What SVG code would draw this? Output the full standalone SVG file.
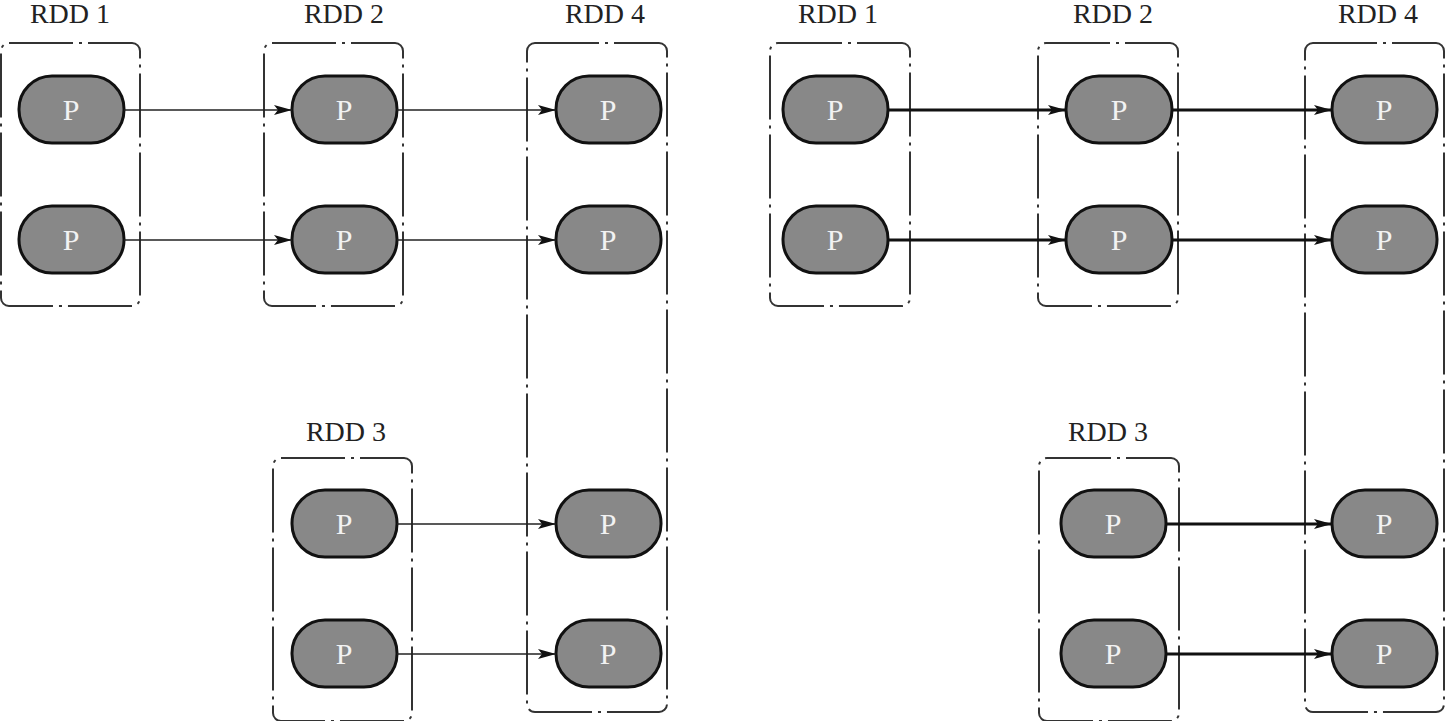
<svg xmlns="http://www.w3.org/2000/svg" width="1445" height="721" viewBox="0 0 1445 721">
<defs>
<style>
.box{fill:none;stroke:#333;stroke-width:2;stroke-dasharray:64 6 3 6}
.pill{fill:#888;stroke:#111;stroke-width:3}
.pt{font-family:"Liberation Serif",serif;font-size:30px;fill:#f2f2f2;text-anchor:middle}
.lbl{font-family:"Liberation Serif",serif;font-size:28px;fill:#222;text-anchor:middle}
.thin{stroke:#222;stroke-width:1.6;fill:none}
.thick{stroke:#111;stroke-width:3;fill:none}
</style>
<marker id="ah" markerUnits="userSpaceOnUse" markerWidth="20" markerHeight="12" refX="18" refY="6" orient="auto">
<path d="M0,1 L18,6 L0,11 L4,6 Z" fill="#111"/>
</marker>
</defs>
<rect width="1445" height="721" fill="#fff"/>

<g id="left-rdd1">
<text class="lbl" x="70" y="23">RDD 1</text>
<rect class="box" x="1" y="43" width="139" height="263" rx="8"/>
<rect class="pill" x="19" y="76" width="105" height="67" rx="33"/><text class="pt" x="71" y="120">P</text>
<rect class="pill" x="19" y="206" width="105" height="67" rx="33"/><text class="pt" x="71" y="250">P</text>
</g>
<g id="left-rdd2">
<text class="lbl" x="344" y="23">RDD 2</text>
<rect class="box" x="264" y="43" width="139" height="263" rx="8"/>
<rect class="pill" x="292" y="76" width="105" height="67" rx="33"/><text class="pt" x="344" y="120">P</text>
<rect class="pill" x="292" y="206" width="105" height="67" rx="33"/><text class="pt" x="344" y="250">P</text>
</g>
<g id="left-rdd3">
<text class="lbl" x="346" y="441">RDD 3</text>
<rect class="box" x="273" y="458" width="139" height="263" rx="8"/>
<rect class="pill" x="292" y="490" width="105" height="67" rx="33"/><text class="pt" x="344" y="534">P</text>
<rect class="pill" x="292" y="620" width="105" height="67" rx="33"/><text class="pt" x="344" y="664">P</text>
</g>
<g id="left-rdd4">
<text class="lbl" x="605" y="23">RDD 4</text>
<rect class="box" x="527" y="43" width="140" height="669" rx="8"/>
<rect class="pill" x="556" y="76" width="105" height="67" rx="33"/><text class="pt" x="608" y="120">P</text>
<rect class="pill" x="556" y="206" width="105" height="67" rx="33"/><text class="pt" x="608" y="250">P</text>
<rect class="pill" x="556" y="490" width="105" height="67" rx="33"/><text class="pt" x="608" y="534">P</text>
<rect class="pill" x="556" y="620" width="105" height="67" rx="33"/><text class="pt" x="608" y="664">P</text>
</g>

<g id="right-rdd1">
<text class="lbl" x="838" y="23">RDD 1</text>
<rect class="box" x="770" y="43" width="140" height="263" rx="8"/>
<rect class="pill" x="783" y="76" width="105" height="67" rx="33"/><text class="pt" x="835" y="120">P</text>
<rect class="pill" x="783" y="206" width="105" height="67" rx="33"/><text class="pt" x="835" y="250">P</text>
</g>
<g id="right-rdd2">
<text class="lbl" x="1113" y="23">RDD 2</text>
<rect class="box" x="1038" y="43" width="140" height="263" rx="8"/>
<rect class="pill" x="1066" y="76" width="106" height="67" rx="33"/><text class="pt" x="1119" y="120">P</text>
<rect class="pill" x="1066" y="206" width="106" height="67" rx="33"/><text class="pt" x="1119" y="250">P</text>
</g>
<g id="right-rdd3">
<text class="lbl" x="1108" y="441">RDD 3</text>
<rect class="box" x="1039" y="458" width="140" height="263" rx="8"/>
<rect class="pill" x="1061" y="490" width="105" height="67" rx="33"/><text class="pt" x="1113" y="534">P</text>
<rect class="pill" x="1061" y="620" width="105" height="67" rx="33"/><text class="pt" x="1113" y="664">P</text>
</g>
<g id="right-rdd4">
<text class="lbl" x="1378" y="23">RDD 4</text>
<rect class="box" x="1305" y="43" width="139" height="669" rx="8"/>
<rect class="pill" x="1332" y="76" width="105" height="67" rx="33"/><text class="pt" x="1384" y="120">P</text>
<rect class="pill" x="1332" y="206" width="105" height="67" rx="33"/><text class="pt" x="1384" y="250">P</text>
<rect class="pill" x="1332" y="490" width="105" height="67" rx="33"/><text class="pt" x="1384" y="534">P</text>
<rect class="pill" x="1332" y="620" width="105" height="67" rx="33"/><text class="pt" x="1384" y="664">P</text>
</g>

<g id="connectors">
<path class="thin" marker-end="url(#ah)" d="M124,110 H292"/>
<path class="thin" marker-end="url(#ah)" d="M124,240 H292"/>
<path class="thin" marker-end="url(#ah)" d="M397,110 H556"/>
<path class="thin" marker-end="url(#ah)" d="M397,240 H556"/>
<path class="thin" marker-end="url(#ah)" d="M397,524 H556"/>
<path class="thin" marker-end="url(#ah)" d="M397,654 H556"/>
<path class="thick" marker-end="url(#ah)" d="M888,110 H1066"/>
<path class="thick" marker-end="url(#ah)" d="M888,240 H1066"/>
<path class="thick" marker-end="url(#ah)" d="M1172,110 H1332"/>
<path class="thick" marker-end="url(#ah)" d="M1172,240 H1332"/>
<path class="thick" marker-end="url(#ah)" d="M1166,524 H1332"/>
<path class="thick" marker-end="url(#ah)" d="M1166,654 H1332"/>
</g>
</svg>
